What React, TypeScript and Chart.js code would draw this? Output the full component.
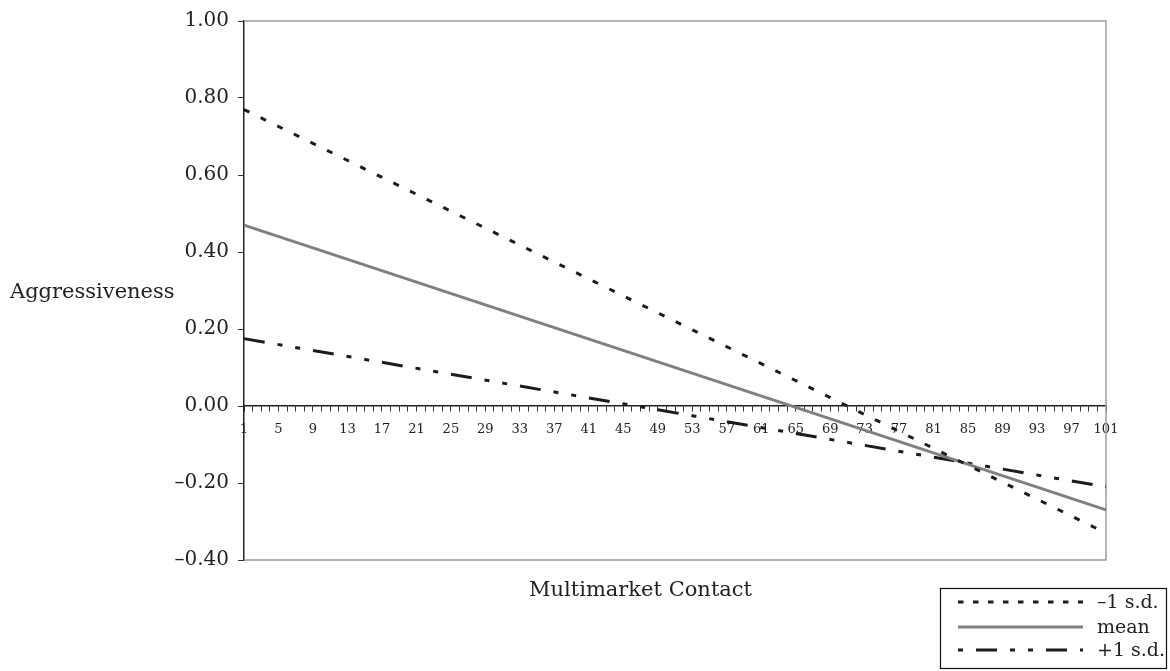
import React, { useEffect, useRef } from 'react';
import { Chart, registerables } from 'chart.js';

Chart.register(...registerables);

// Category labels along the x axis (Multimarket Contact 1..101)
const contactLabels: string[] = Array.from({ length: 101 }, (_, i) => String(i + 1));
// Endpoints of the straight regression lines
const endpointLabels = ['1', '101'];
const minusSDValues = [0.77, -0.33];
const meanValues = [0.47, -0.27];
const plusSDValues = [0.175, -0.21];
const seriesNames = ['–1 s.d.', 'mean', '+1 s.d.'];
const yMin = -0.4;
const yMax = 1.0;
const yStep = 0.2;

const FONT = "'DejaVu Serif', serif";
const INK = '#222222';

function fmtY(v: number): string {
  const r = Math.round(v * 100);
  const s = (Math.abs(r) / 100).toFixed(2);
  return r < 0 ? '–' + s : s;
}

const decorPlugin = {
  id: 'decor',
  beforeDatasetsDraw(chart: any) {
    const { ctx, chartArea: a } = chart;
    ctx.save();
    ctx.strokeStyle = '#9a9a9a';
    ctx.lineWidth = 1.5;
    ctx.beginPath();
    ctx.moveTo(a.left, a.top);
    ctx.lineTo(a.right, a.top);
    ctx.lineTo(a.right, a.bottom);
    ctx.lineTo(a.left, a.bottom);
    ctx.stroke();
    ctx.restore();
  },
  afterDraw(chart: any) {
    const { ctx, chartArea: a } = chart;
    const W = chart.width;
    const H = chart.height;
    ctx.save();
    ctx.fillStyle = INK;
    ctx.font = `21px ${FONT}`;
    ctx.textBaseline = 'alphabetic';
    ctx.textAlign = 'left';
    ctx.fillText('Aggressiveness', 10, (a.top + a.bottom) / 2 + 7);
    ctx.textAlign = 'center';
    ctx.fillText('Multimarket Contact', a.left + (a.right - a.left) * 0.46, a.bottom + 36);

    // legend box
    const bx = W - 230;
    const by = H - 83;
    const bw = 226;
    const bh = 80;
    ctx.strokeStyle = '#111';
    ctx.lineWidth = 1.2;
    ctx.strokeRect(bx + 0.5, by + 0.5, bw, bh);
    const rowsY = [by + 14, by + 39, by + 62];
    const ds = chart.data.datasets;
    ds.forEach((d: any, i: number) => {
      const y = rowsY[i];
      ctx.save();
      ctx.strokeStyle = d.borderColor;
      ctx.lineWidth = d.borderWidth;
      ctx.setLineDash(d.legendDash || []);
      ctx.lineDashOffset = d.legendDashOffset || 0;
      ctx.beginPath();
      ctx.moveTo(bx + 18, y);
      ctx.lineTo(bx + 143, y);
      ctx.stroke();
      ctx.restore();
      ctx.fillStyle = INK;
      ctx.font = `19px ${FONT}`;
      ctx.textAlign = 'left';
      ctx.textBaseline = 'middle';
      ctx.fillText(d.label, bx + 157, y + 1);
    });
    ctx.restore();
  },
};

export default function App() {
  const canvasRef = useRef<HTMLCanvasElement | null>(null);

  useEffect(() => {
    const canvas = canvasRef.current;
    if (!canvas) return;
    const toPoints = (vals: number[]) => vals.map((v, i) => ({ x: endpointLabels[i], y: v }));
    const chart = new Chart(canvas, {
      type: 'line',
      data: {
        labels: contactLabels,
        datasets: [
          {
            label: seriesNames[0],
            data: toPoints(minusSDValues) as any,
            borderColor: '#1c1c1c',
            borderWidth: 3,
            borderDash: [6, 12.5],
            pointRadius: 0,
            fill: false,
            legendDash: [5.5, 9.5],
          } as any,
          {
            label: seriesNames[1],
            data: toPoints(meanValues) as any,
            borderColor: '#808080',
            borderWidth: 3,
            pointRadius: 0,
            fill: false,
          } as any,
          {
            label: seriesNames[2],
            data: toPoints(plusSDValues) as any,
            borderColor: '#1c1c1c',
            borderWidth: 3,
            borderDash: [21, 13, 5, 13, 5, 13],
            pointRadius: 0,
            fill: false,
            legendDash: [21, 13, 5, 13, 5, 13],
            legendDashOffset: 52,
          } as any,
        ],
      },
      options: {
        animation: false,
        responsive: true,
        maintainAspectRatio: false,
        layout: { padding: { left: 0, top: 19, right: 64, bottom: 111 } },
        plugins: {
          legend: { display: false },
          tooltip: { enabled: false },
        },
        scales: {
          x: {
            type: 'category',
            position: { y: 0 } as any,
            offset: false,
            grid: {
              drawOnChartArea: false,
              drawTicks: true,
              tickLength: 5,
              tickColor: '#333',
              tickWidth: 1,
            },
            border: { display: true, color: '#222', width: 1.5 },
            ticks: {
              autoSkip: false,
              maxRotation: 0,
              minRotation: 0,
              padding: 11,
              color: INK,
              font: { family: FONT, size: 13 },
              callback: (_v: any, i: number) => (i % 4 === 0 ? contactLabels[i] : ''),
            },
          },
          y: {
            type: 'linear',
            min: yMin,
            max: yMax,
            afterFit: (s: any) => {
              s.width = 244;
            },
            grid: {
              drawOnChartArea: false,
              drawTicks: true,
              tickLength: 6,
              tickColor: '#333',
            },
            border: { display: true, color: '#222', width: 1.5 },
            ticks: {
              stepSize: yStep,
              padding: 9,
              color: INK,
              font: { family: FONT, size: 20 },
              callback: (v: any) => fmtY(Number(v)),
            },
          },
        },
      },
      plugins: [decorPlugin],
    });
    return () => chart.destroy();
  }, []);

  return (
    <div style={{ position: 'absolute', left: 0, top: 0, width: 1170, height: 671, background: '#fff' }}>
      <canvas ref={canvasRef} />
    </div>
  );
}
